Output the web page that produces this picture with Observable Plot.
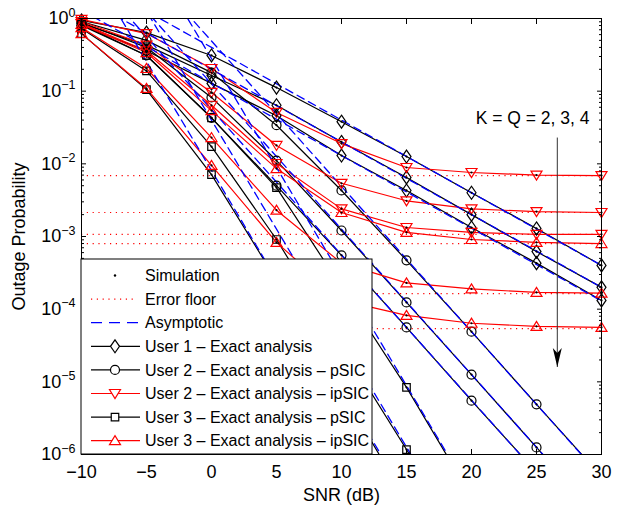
<!DOCTYPE html>
<html><head><meta charset="utf-8">
<script src="https://cdn.jsdelivr.net/npm/d3@7"></script>
<script src="https://cdn.jsdelivr.net/npm/@observablehq/plot@0.6"></script>
<style>
html,body{margin:0;padding:0;background:#fff;}
#chart{width:625px;height:508px;}
</style></head><body><div id="chart"></div>
<script>
// ---------- data ----------
const snr = [-10, -5, 0, 5, 10, 15, 20, 25, 30];
const xTicks = [-10, -5, 0, 5, 10, 15, 20, 25, 30];
const yTicks = [1e-6, 1e-5, 1e-4, 1e-3, 1e-2, 1e-1, 1];

const user1_K2 = [0.94, 0.64, 0.31, 0.112, 0.038, 0.0126, 0.0040, 0.00129, 0.00040];
const user1_K3 = [0.85, 0.43, 0.164, 0.064, 0.020, 0.0065, 0.0020, 0.00062, 0.00020];
const user1_K4 = [0.80, 0.36, 0.128, 0.046, 0.0130, 0.0043, 0.00133, 0.00043, 0.000132];
const user2pSIC_K2 = [0.91, 0.50, 0.18, 0.034, 0.0043, 0.00047, 4.9e-5, 4.9e-6, 5.0e-7];
const user2pSIC_K3 = [0.88, 0.40, 0.082, 0.0111, 0.00121, 0.000124, 1.26e-5, 1.25e-6, 1.24e-7];
const user2pSIC_K4 = [0.80, 0.31, 0.043, 0.0050, 0.00055, 5.6e-5, 5.5e-6, 5.7e-7, 5.6e-8];
const user2ipSIC_K2 = [0.97, 0.62, 0.205, 0.051, 0.019, 0.0089, 0.0076, 0.0070, 0.0069];
const user2ipSIC_K3 = [0.91, 0.43, 0.096, 0.0179, 0.0054, 0.0031, 0.0024, 0.0022, 0.00214];
const user2ipSIC_K4 = [0.85, 0.36, 0.064, 0.0101, 0.0024, 0.00133, 0.00114, 0.00107, 0.00107];
const user3pSIC_K2 = [0.83, 0.31, 0.043, 0.0047, 0.00020, 8.4e-6, 2.6e-7];
const user3pSIC_K3 = [0.73, 0.19, 0.0173, 0.00091, 3.2e-5, 1.17e-6, 4.1e-8];
const user3pSIC_K4 = [0.62, 0.105, 0.0071, 0.00025, 7.6e-6, 2.3e-7];
const user3ipSIC_K2 = [0.83, 0.34, 0.054, 0.0086, 0.00214, 0.00114, 0.00091, 0.00083, 0.00080];
const user3ipSIC_K3 = [0.75, 0.205, 0.023, 0.0023, 0.00043, 0.00023, 0.00019, 0.00017, 0.000166];
const user3ipSIC_K4 = [0.62, 0.109, 0.0095, 0.00083, 0.000132, 8.2e-5, 6.4e-5, 5.8e-5, 5.6e-5];

const errorFloors = [0.0069, 0.00214, 0.00107, 0.00080, 0.000164, 0.000054];

// asymptotic lines: value at SNR = -10 dB and at SNR = 30 dB
const asymSnr = [-10, 30];
const asym_user1_K2 = [4.0, 4.0e-4];
const asym_user1_K3 = [2.0, 2.0e-4];
const asym_user1_K4 = [1.3, 1.3e-4];
const asym_user2_K2 = [49, 4.9e-7];
const asym_user2_K3 = [12.6, 1.26e-7];
const asym_user2_K4 = [5.6, 5.6e-8];
const asym_user3_K2 = [282, 2.8e-10];
const asym_user3_K3 = [40, 4.0e-11];
const asym_user3_K4 = [8.1, 8.1e-12];

const legendLabels = [
  "Simulation", "Error floor", "Asymptotic",
  "User 1 \u2013 Exact analysis",
  "User 2 \u2013 Exact analysis \u2013 pSIC",
  "User 2 \u2013 Exact analysis \u2013 ipSIC",
  "User 3 \u2013 Exact analysis \u2013 pSIC",
  "User 3 \u2013 Exact analysis \u2013 ipSIC"
];
const xTitle = "SNR (dB)";
const yTitle = "Outage Probability";
const annotationText = "K = Q = 2, 3, 4";
const annotationSnr = 24.7, annotationP = 0.042;
const arrowSnr = 26.6, arrowFromP = 0.023, arrowToP = 1.6e-5;

// ---------- symbols (MATLAB-like hollow markers) ----------
const symDiamond = {draw(c){ c.moveTo(0,-6.5); c.lineTo(4.5,0); c.lineTo(0,6.5); c.lineTo(-4.5,0); c.closePath(); }};
const symCircle  = {draw(c){ c.moveTo(4.5,0); c.arc(0,0,4.5,0,2*Math.PI); c.closePath(); }};
const symTriDown = {draw(c){ c.moveTo(-5.5,-4); c.lineTo(5.5,-4); c.lineTo(0,5); c.closePath(); }};
const symSquare  = {draw(c){ c.moveTo(-3.75,-3.75); c.lineTo(3.75,-3.75); c.lineTo(3.75,3.75); c.lineTo(-3.75,3.75); c.closePath(); }};
const symTriUp   = {draw(c){ c.moveTo(-5.5,4); c.lineTo(5.5,4); c.lineTo(0,-5); c.closePath(); }};
const symArrow   = {draw(c){ c.moveTo(0,0); c.lineTo(-4.5,-19); c.lineTo(0,-14); c.lineTo(4.5,-19); c.closePath(); }};

const types = {
  u1:  {stroke: "#000000", symbol: symDiamond},
  u2p: {stroke: "#000000", symbol: symCircle},
  u2i: {stroke: "#ff0000", symbol: symTriDown},
  u3p: {stroke: "#000000", symbol: symSquare},
  u3i: {stroke: "#ff0000", symbol: symTriUp}
};

const seriesList = [
  ["u1", "K2", user1_K2], ["u1", "K3", user1_K3], ["u1", "K4", user1_K4],
  ["u2p", "K2", user2pSIC_K2], ["u2p", "K3", user2pSIC_K3], ["u2p", "K4", user2pSIC_K4],
  ["u2i", "K2", user2ipSIC_K2], ["u2i", "K3", user2ipSIC_K3], ["u2i", "K4", user2ipSIC_K4],
  ["u3p", "K2", user3pSIC_K2], ["u3p", "K3", user3pSIC_K3], ["u3p", "K4", user3pSIC_K4],
  ["u3i", "K2", user3ipSIC_K2], ["u3i", "K3", user3ipSIC_K3], ["u3i", "K4", user3ipSIC_K4]
];
const rows = seriesList.flatMap(([type, k, vals]) => vals.map((p, i) => ({id: type + k, type, snr: snr[i], p})));
const visible = rows.filter(d => d.p >= 1e-6 && d.p <= 1.0001);

const asymList = [asym_user1_K2, asym_user1_K3, asym_user1_K4, asym_user2_K2, asym_user2_K3, asym_user2_K4, asym_user3_K2, asym_user3_K3, asym_user3_K4];
const asymRows = asymList.flatMap((vals, j) => vals.map((p, i) => ({id: j, snr: asymSnr[i], p})));

const annotation = [{x: annotationSnr, y: annotationP, ax: arrowSnr, y1: arrowFromP, y2: arrowToP, text: annotationText}];

const yMinor = [];
for (let e = -6; e < 0; e++) for (let m = 2; m <= 9; m++) yMinor.push(m * Math.pow(10, e));

const font = "'Liberation Sans', Arial, Helvetica, sans-serif";

const marks = [
  Plot.ruleY(errorFloors, {y: d => d, stroke: "#ff0000", strokeWidth: 1.2, strokeDasharray: "1.2,4.6"}),
  Plot.line(rows.filter(d => types[d.type].stroke === "#000000"), {x: "snr", y: "p", z: "id", stroke: "#000000", strokeWidth: 1.2, clip: true}),
  Plot.line(rows.filter(d => types[d.type].stroke === "#ff0000"), {x: "snr", y: "p", z: "id", stroke: "#ff0000", strokeWidth: 1.2, clip: true}),
  Plot.line(asymRows, {x: "snr", y: "p", z: "id", stroke: "#0000ff", strokeWidth: 1.3, strokeDasharray: "8,5", clip: true}),
  ...Object.entries(types).map(([t, s]) =>
    Plot.dot(visible.filter(d => d.type === t), {x: "snr", y: "p", symbol: s.symbol, stroke: s.stroke, fill: "none", strokeWidth: 1.2})),
  Plot.dot(visible, {x: "snr", y: "p", r: 1.1, fill: "#000000", stroke: "none"}),
  Plot.link(annotation, {x1: "ax", x2: "ax", y1: "y1", y2: "y2", stroke: "#333333", strokeWidth: 1}),
  Plot.dot(annotation, {x: "ax", y: "y2", symbol: symArrow, fill: "#000000", stroke: "none"}),
  Plot.text(annotation, {x: "x", y: "y", text: "text", fontSize: 17.5, fill: "#000000"}),
  Plot.frame({stroke: "#000000", strokeWidth: 1}),
  Plot.axisX({anchor: "bottom", ticks: xTicks, tickSize: -5, tickPadding: 16, tickFormat: d => d < 0 ? "\u2212" + Math.abs(d) : String(d), label: null, fontSize: 18}),
  Plot.axisX({anchor: "top", ticks: xTicks, tickSize: -5, tickFormat: () => "", label: null}),
  Plot.axisY({anchor: "left", ticks: yTicks, tickSize: -5, tickPadding: 11, tickFormat: d => String(Math.round(Math.log10(d))), label: null, fontSize: 18}),
  Plot.axisY({anchor: "left", ticks: yMinor, tickSize: -3, tickFormat: () => "", label: null}),
  Plot.axisY({anchor: "right", ticks: yTicks, tickSize: -5, tickFormat: () => "", label: null}),
  Plot.axisY({anchor: "right", ticks: yMinor, tickSize: -3, tickFormat: () => "", label: null}),
  Plot.text([xTitle], {frameAnchor: "bottom", text: d => d, dy: 46, lineAnchor: "bottom", textAnchor: "middle", fontSize: 18, fill: "#000"}),
  Plot.text([yTitle], {frameAnchor: "left", text: d => d, dx: -57, rotate: -90, lineAnchor: "bottom", textAnchor: "middle", fontSize: 18, fill: "#000"})
];

const plot = Plot.plot({
  width: 625, height: 508,
  marginTop: 18, marginRight: 24, marginBottom: 54, marginLeft: 81,
  x: {domain: [-10, 30], label: null},
  y: {type: "log", domain: [1e-6, 1], label: null},
  style: {fontFamily: font, fontSize: "18px", background: "#ffffff", color: "#000000", overflow: "visible"},
  marks
});

// superscript exponents for the y tick labels
d3.select(plot).selectAll('g[aria-label="y-axis tick label"] text').each(function() {
  const e = this.textContent;
  if (!e) return;
  const t = d3.select(this);
  t.text(null);
  t.append("tspan").text("10");
  t.append("tspan").attr("dy", "-0.6em").attr("font-size", "12.5px").text(e.replace("-", "\u2212"));
});

// legend box in the lower-left corner of the frame
const xr = plot.scale("x").range, yr = plot.scale("y").range;
const fx0 = Math.min(...xr), fy1 = Math.max(...yr);
const lw = 291, lh = 195;
const lg = d3.select(plot).append("g").attr("font-family", font).attr("font-size", "16px").attr("text-anchor", "start");
lg.append("rect").attr("x", fx0).attr("y", fy1 - lh).attr("width", lw).attr("height", lh)
  .attr("fill", "#ffffff").attr("stroke", "#000000").attr("stroke-width", 1);
const legendSyms = [null, null, null, types.u1, types.u2p, types.u2i, types.u3p, types.u3i];
legendLabels.forEach((label, i) => {
  const cy = fy1 - lh + 16.5 + i * 23.6;
  const sx0 = fx0 + 10, sx1 = fx0 + 59, sc = fx0 + 34;
  if (i === 0) {
    lg.append("circle").attr("cx", sc).attr("cy", cy).attr("r", 1.2).attr("fill", "#000");
  } else if (i === 1) {
    lg.append("line").attr("x1", sx0).attr("x2", sx1 - 4).attr("y1", cy).attr("y2", cy)
      .attr("stroke", "#ff0000").attr("stroke-width", 1.2).attr("stroke-dasharray", "1.2,4.6");
  } else if (i === 2) {
    lg.append("line").attr("x1", sx0).attr("x2", sx1).attr("y1", cy).attr("y2", cy)
      .attr("stroke", "#0000ff").attr("stroke-width", 1.3).attr("stroke-dasharray", "11,7");
  } else {
    const s = legendSyms[i];
    lg.append("line").attr("x1", sx0).attr("x2", sx1).attr("y1", cy).attr("y2", cy)
      .attr("stroke", s.stroke).attr("stroke-width", 1.2);
    lg.append("path").attr("d", d3.symbol(s.symbol)()).attr("transform", `translate(${sc},${cy})`)
      .attr("fill", "#ffffff").attr("stroke", s.stroke).attr("stroke-width", 1.2);
  }
  lg.append("text").attr("x", fx0 + 64).attr("y", cy).attr("dy", "0.36em").attr("fill", "#000").text(label);
});

document.getElementById("chart").appendChild(plot);
</script>
</body></html>
